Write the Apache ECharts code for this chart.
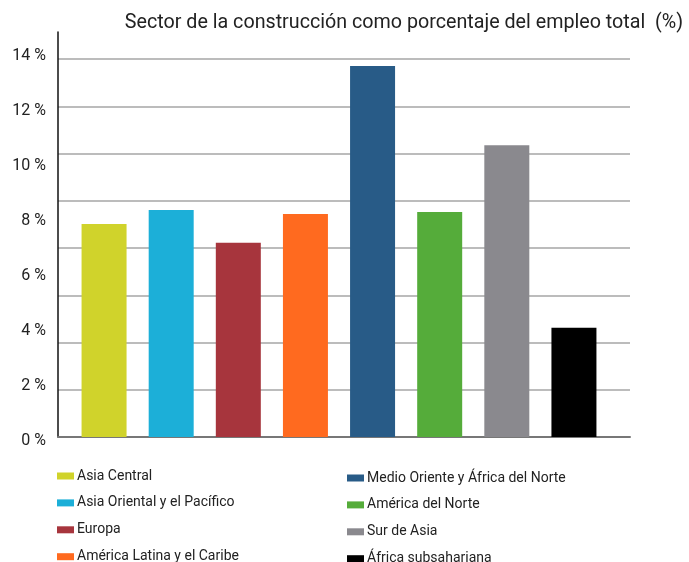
<!DOCTYPE html>
<html>
<head>
<meta charset="utf-8">
<script src="https://cdn.jsdelivr.net/npm/echarts@6/dist/echarts.min.js"></script>
<style>html,body{margin:0;padding:0;background:#fff}#c{width:689px;height:562px}</style>
</head>
<body>
<div id="c"></div>
<script>
const titleText = 'Sector de la construcción como porcentaje del empleo total  (%)';
const categories = ['Asia Central', 'Asia Oriental y el Pacífico', 'Europa', 'América Latina y el Caribe',
  'Medio Oriente y África del Norte', 'América del Norte', 'Sur de Asia', 'África subsahariana'];
const values = [7.89, 8.41, 7.19, 8.26, 13.74, 8.33, 10.81, 4.05];
const colors = ['#d0d32b', '#1cafd8', '#a7353d', '#ff6a1f', '#285b87', '#55ac3a', '#8a898e', '#000000'];
const yMin = 0, yMax = 14, labelStep = 2, gridStep = 1.75;

const font = 'Roboto, "Liberation Sans", sans-serif';
const chart = echarts.init(document.getElementById('c'), null, {renderer: 'canvas'});

const series = categories.map((name, i) => ({
  name: name,
  type: 'bar',
  xAxisIndex: 1,
  yAxisIndex: 1,
  stack: 'all',
  barWidth: 45,
  itemStyle: {color: colors[i]},
  data: categories.map((c, j) => (j === i ? values[i] : '-'))
}));

const legendCommon = {
  orient: 'vertical', padding: 0, height: 120,
  itemWidth: 17, itemHeight: 7, itemGap: 12.9, icon: 'rect',
  textStyle: {fontFamily: font, fontSize: 14, lineHeight: 14, color: '#222', padding: [0, 0, 0, -2]}
};

chart.setOption({
  animation: false,
  color: colors,
  title: {
    text: titleText, right: 1, top: 8,
    textStyle: {fontFamily: font, fontSize: 19.7, fontWeight: 'normal', color: '#222'}
  },
  grid: [
    {left: 58, top: 59, width: 572, height: 378},
    {left: 70.5, top: 59, width: 537, height: 378},
    {left: 58, top: 55.7, width: 572, height: 385},
    {left: 58, top: 32, width: 572, height: 405}
  ],
  xAxis: [
    {gridIndex: 0, type: 'category', data: categories, axisTick: {show: false}, axisLabel: {show: false},
      axisLine: {lineStyle: {color: '#777', width: 2}}},
    {gridIndex: 1, type: 'category', data: categories, show: false},
    {gridIndex: 2, type: 'value', show: false},
    {gridIndex: 3, type: 'value', show: false}
  ],
  yAxis: [
    {gridIndex: 0, type: 'value', min: yMin, max: yMax, interval: gridStep,
      axisLine: {show: false}, axisTick: {show: false}, axisLabel: {show: false},
      splitLine: {lineStyle: {color: '#a6a6a6', width: 1.5}}},
    {gridIndex: 1, type: 'value', min: yMin, max: yMax, show: false},
    {gridIndex: 2, type: 'value', min: yMin, max: yMax, interval: labelStep,
      axisLine: {show: false}, axisTick: {show: false}, splitLine: {show: false},
      axisLabel: {formatter: '{value} %', margin: 12, fontFamily: font, fontSize: 16, color: '#222'}},
    {gridIndex: 3, type: 'value', min: 0, max: 1,
      axisLine: {show: true, lineStyle: {color: '#111', width: 1.5}}, axisTick: {show: false},
      axisLabel: {show: false}, splitLine: {show: false}}
  ],
  legend: [
    Object.assign({data: categories.slice(0, 4), left: 57, top: 469}, legendCommon),
    Object.assign({data: categories.slice(4), left: 347, top: 471}, legendCommon)
  ],
  series: series
});
</script>
</body>
</html>
